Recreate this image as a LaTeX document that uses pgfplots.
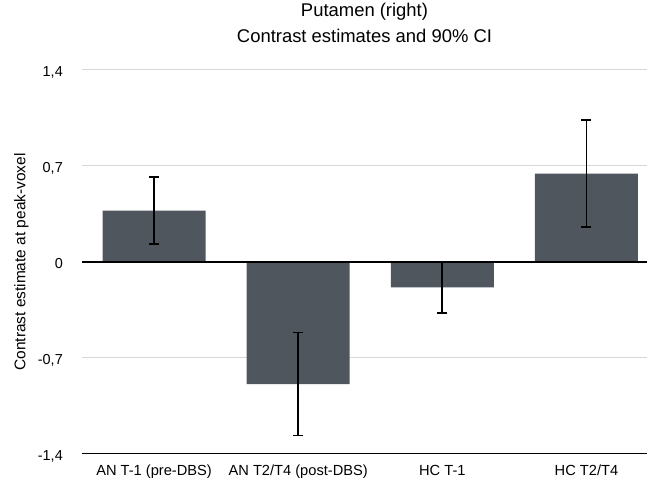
\documentclass[border=0pt]{standalone}
\usepackage{pgfplots}
\pgfplotsset{compat=1.18}
\usepackage{fontspec}
\setmainfont{Liberation Sans}
\definecolor{barc}{RGB}{80,86,93}
\definecolor{gridc}{RGB}{215,215,215}
\begin{document}
\begin{tikzpicture}
\begin{axis}[
 scale only axis, width=565bp, height=384bp,
 xmin=-0.5, xmax=3.42, ymin=-1.4, ymax=1.4,
 axis line style={draw=none},
 xtick={0,1,2,3},
 xticklabels={AN T-1 (pre-DBS), AN T2/T4 (post-DBS), HC T-1, HC T2/T4},
 major tick length=0,
 ytick={-1.4,-0.7,0,0.7,1.4},
 yticklabels={{-1,4},{-0,7},0,{0,7},{1,4}},
 ymajorgrids, grid style={gridc, line width=1bp},
 xticklabel style={font=\fontsize{14.7}{18}\selectfont, anchor=base, inner sep=0pt, yshift=-22bp},
 yticklabel style={font=\fontsize{14.5}{16}\selectfont, anchor=east, inner sep=0pt, xshift=-19bp, yshift=-2bp},
 title={Putamen (right)\\Contrast estimates and 90\% CI},
 title style={align=center, font=\fontsize{18.5}{26}\selectfont, at={(axis description cs:0.5,1)}, anchor=south, inner sep=0pt, yshift=21bp},
 ylabel={Contrast estimate at peak-voxel},
 ylabel style={font=\fontsize{15.5}{18}\selectfont, at={(axis description cs:-0.1,0.5)}, anchor=base, inner sep=0pt},
 ybar, bar width=0.715,
]
\addplot[fill=barc, draw=none,
  error bars/.cd, y dir=both, y explicit,
  error bar style={line width=1.7bp, black},
  error mark options={rotate=90, mark size=5bp, line width=1.7bp, black}]
 table[x=x, y=y, y error=e] {
 x y e
 0 0.375 0.245
 1 -0.89 0.375
 2 -0.185 0.185
 3 0.645 0.39
 };
\draw[black, line width=2bp] (rel axis cs:0,0.5) -- (rel axis cs:1,0.5);
\draw[black, line width=1.4bp] (rel axis cs:0,0) -- (rel axis cs:1,0);
\coordinate (bl) at (rel axis cs:0,0);
\coordinate (tr) at (rel axis cs:1,1);
\end{axis}
\pgfresetboundingbox
\path[use as bounding box] ([shift={(-82bp,-24bp)}]bl) rectangle ([shift={(1bp,70bp)}]tr);
\end{tikzpicture}
\end{document}
